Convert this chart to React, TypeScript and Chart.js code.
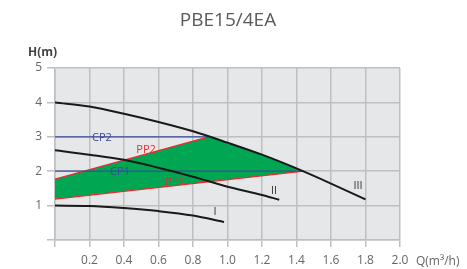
import React, { useEffect, useRef } from "react";
import { Chart, registerables } from "chart.js";

Chart.register(...registerables);

const titleText = "PBE15/4EA";
const yAxisLabel = "H(m)";
const xAxisLabel = "Q(m³/h)";

const xTickValues = [0, 0.2, 0.4, 0.6, 0.8, 1.0, 1.2, 1.4, 1.6, 1.8, 2.0];
const yTickValues = [0, 1, 2, 3, 4, 5];

const curveIQ = [0, 0.2, 0.4, 0.6, 0.8, 0.98];
const curveIH = [1.0, 0.99, 0.93, 0.84, 0.71, 0.52];

const curveIIQ = [0, 0.2, 0.4, 0.6, 0.8, 1.0, 1.2, 1.3];
const curveIIH = [2.61, 2.48, 2.33, 2.1, 1.84, 1.55, 1.31, 1.17];

const curveIIIQ = [0, 0.2, 0.4, 0.6, 0.8, 1.0, 1.2, 1.4, 1.6, 1.8];
const curveIIIH = [4.0, 3.88, 3.67, 3.43, 3.16, 2.83, 2.48, 2.08, 1.64, 1.18];

const pp2Q = [0, 0.89];
const pp2H = [1.77, 3.0];
const pp1Q = [0, 1.44];
const pp1H = [1.19, 2.0];
const cp2Q = [0, 0.89];
const cp2H = [3, 3];
const cp1Q = [0, 1.44];
const cp1H = [2, 2];

const labelNames = ["CP2", "PP2", "CP1", "PP1", "I", "II", "III"];
const labelQ = [0.272, 0.528, 0.377, 0.696, 0.928, 1.27, 1.757];
const labelH = [2.97, 2.62, 1.99, 1.69, 0.82, 1.43, 1.58];
const labelColors = ["#3d4b9c", "#ee2a30", "#3d4b9c", "#ee2a30", "#333333", "#333333", "#333333"];

const zip = (q: number[], h: number[]) => q.map((x, i) => ({ x, y: h[i] }));

// green operating area: PP2 up to III, along III, back along PP1
const areaPoints = [
  ...zip(pp2Q, pp2H),
  ...zip(curveIIIQ, curveIIIH).filter((p) => p.x > pp2Q[1] && p.x < pp1Q[1]),
  ...zip(pp1Q, pp1H).reverse(),
];

const FONT = "'Open Sans', 'Liberation Sans', sans-serif";

const bgPlugin = {
  id: "bgPlugin",
  beforeDraw(chart: any) {
    const { ctx, chartArea } = chart;
    ctx.save();
    ctx.fillStyle = "#e6e7e8";
    ctx.fillRect(chartArea.left, chartArea.top, chartArea.right - chartArea.left, chartArea.bottom - chartArea.top);
    ctx.restore();
  },
};

const textPlugin = {
  id: "textPlugin",
  afterDraw(chart: any) {
    const { ctx, chartArea, scales } = chart;
    const xs = scales.x;
    const ys = scales.y;
    ctx.save();
    // title
    ctx.fillStyle = "#5a5a5a";
    ctx.font = `19px ${FONT}`;
    ctx.textAlign = "center";
    ctx.textBaseline = "middle";
    ctx.fillText(titleText, 228, 21);
    // axis names
    ctx.fillStyle = "#444444";
    ctx.font = `bold 12px ${FONT}`;
    ctx.textAlign = "left";
    ctx.fillText(yAxisLabel, 28, 53);
    ctx.fillStyle = "#666666";
    ctx.font = `12px ${FONT}`;
    ctx.fillText(xAxisLabel, chartArea.right + 16, 262);
    // curve labels
    ctx.font = `11px ${FONT}`;
    ctx.textAlign = "center";
    labelNames.forEach((name, i) => {
      ctx.fillStyle = labelColors[i];
      ctx.fillText(name, xs.getPixelForValue(labelQ[i]), ys.getPixelForValue(labelH[i]));
    });
    ctx.restore();
  },
};

export default function App() {
  const ref = useRef<HTMLCanvasElement | null>(null);
  useEffect(() => {
    if (!ref.current) return;
    const line = (data: any[], color: string, width: number, curved: boolean) => ({
      data,
      showLine: true,
      borderColor: color,
      borderWidth: width,
      pointRadius: 0,
      fill: false,
      tension: 0,
      cubicInterpolationMode: curved ? "monotone" : "default",
    });
    const chart = new Chart(ref.current, {
      type: "scatter",
      data: {
        datasets: [
          line(zip(curveIIIQ, curveIIIH), "#1a1a1a", 2, true),
          line(zip(curveIIQ, curveIIH), "#1a1a1a", 2, true),
          line(zip(curveIQ, curveIH), "#1a1a1a", 2, true),
          line(zip(cp1Q, cp1H), "#3d4b9c", 1.2, false),
          line(zip(cp2Q, cp2H), "#3d4b9c", 1.2, false),
          line(zip(pp1Q, pp1H), "#ee2a30", 1.2, false),
          line(zip(pp2Q, pp2H), "#ee2a30", 1.2, false),
          {
            data: areaPoints,
            showLine: true,
            borderColor: "rgba(0,0,0,0)",
            borderWidth: 0,
            backgroundColor: "#00a651",
            pointRadius: 0,
            fill: "shape",
            tension: 0,
          },
        ] as any,
      },
      options: {
        animation: false,
        responsive: false,
        maintainAspectRatio: false,
        layout: { padding: { left: 0, right: 67, top: 68, bottom: 0 } },
        plugins: {
          legend: { display: false },
          title: { display: false },
          tooltip: { enabled: false },
        },
        scales: {
          x: {
            type: "linear",
            min: 0,
            max: 2,
            afterFit: (s: any) => {
              s.height = 29;
            },
            afterBuildTicks: (s: any) => {
              s.ticks = xTickValues.map((v) => ({ value: v }));
            },
            grid: { color: "#bdbfc1", lineWidth: 1.5, tickLength: 7, drawTicks: true },
            border: { color: "#bdbfc1", width: 1.5 },
            ticks: {
              padding: 6,
              color: "#666666",
              font: { size: 12, family: FONT },
              callback: (v: any) => (Number(v) === 0 ? "" : Number(v).toFixed(1)),
              maxRotation: 0,
              autoSkip: false,
            },
          },
          y: {
            type: "linear",
            min: 0,
            max: 5,
            afterFit: (s: any) => {
              s.width = 55;
            },
            afterBuildTicks: (s: any) => {
              s.ticks = yTickValues.map((v) => ({ value: v }));
            },
            grid: { color: "#bdbfc1", lineWidth: 1.5, tickLength: 8, drawTicks: true },
            border: { color: "#bdbfc1", width: 1.5 },
            ticks: {
              padding: 5,
              color: "#666666",
              font: { size: 12, family: FONT },
              callback: (v: any) => (Number(v) === 0 ? "" : String(v)),
              autoSkip: false,
            },
          },
        },
      } as any,
      plugins: [bgPlugin, textPlugin],
    });
    return () => chart.destroy();
  }, []);
  return (
    <div style={{ position: "fixed", left: 0, top: 0, width: 467, height: 269 }}>
      <canvas ref={ref} width={467} height={269} style={{ width: 467, height: 269 }} />
    </div>
  );
}
